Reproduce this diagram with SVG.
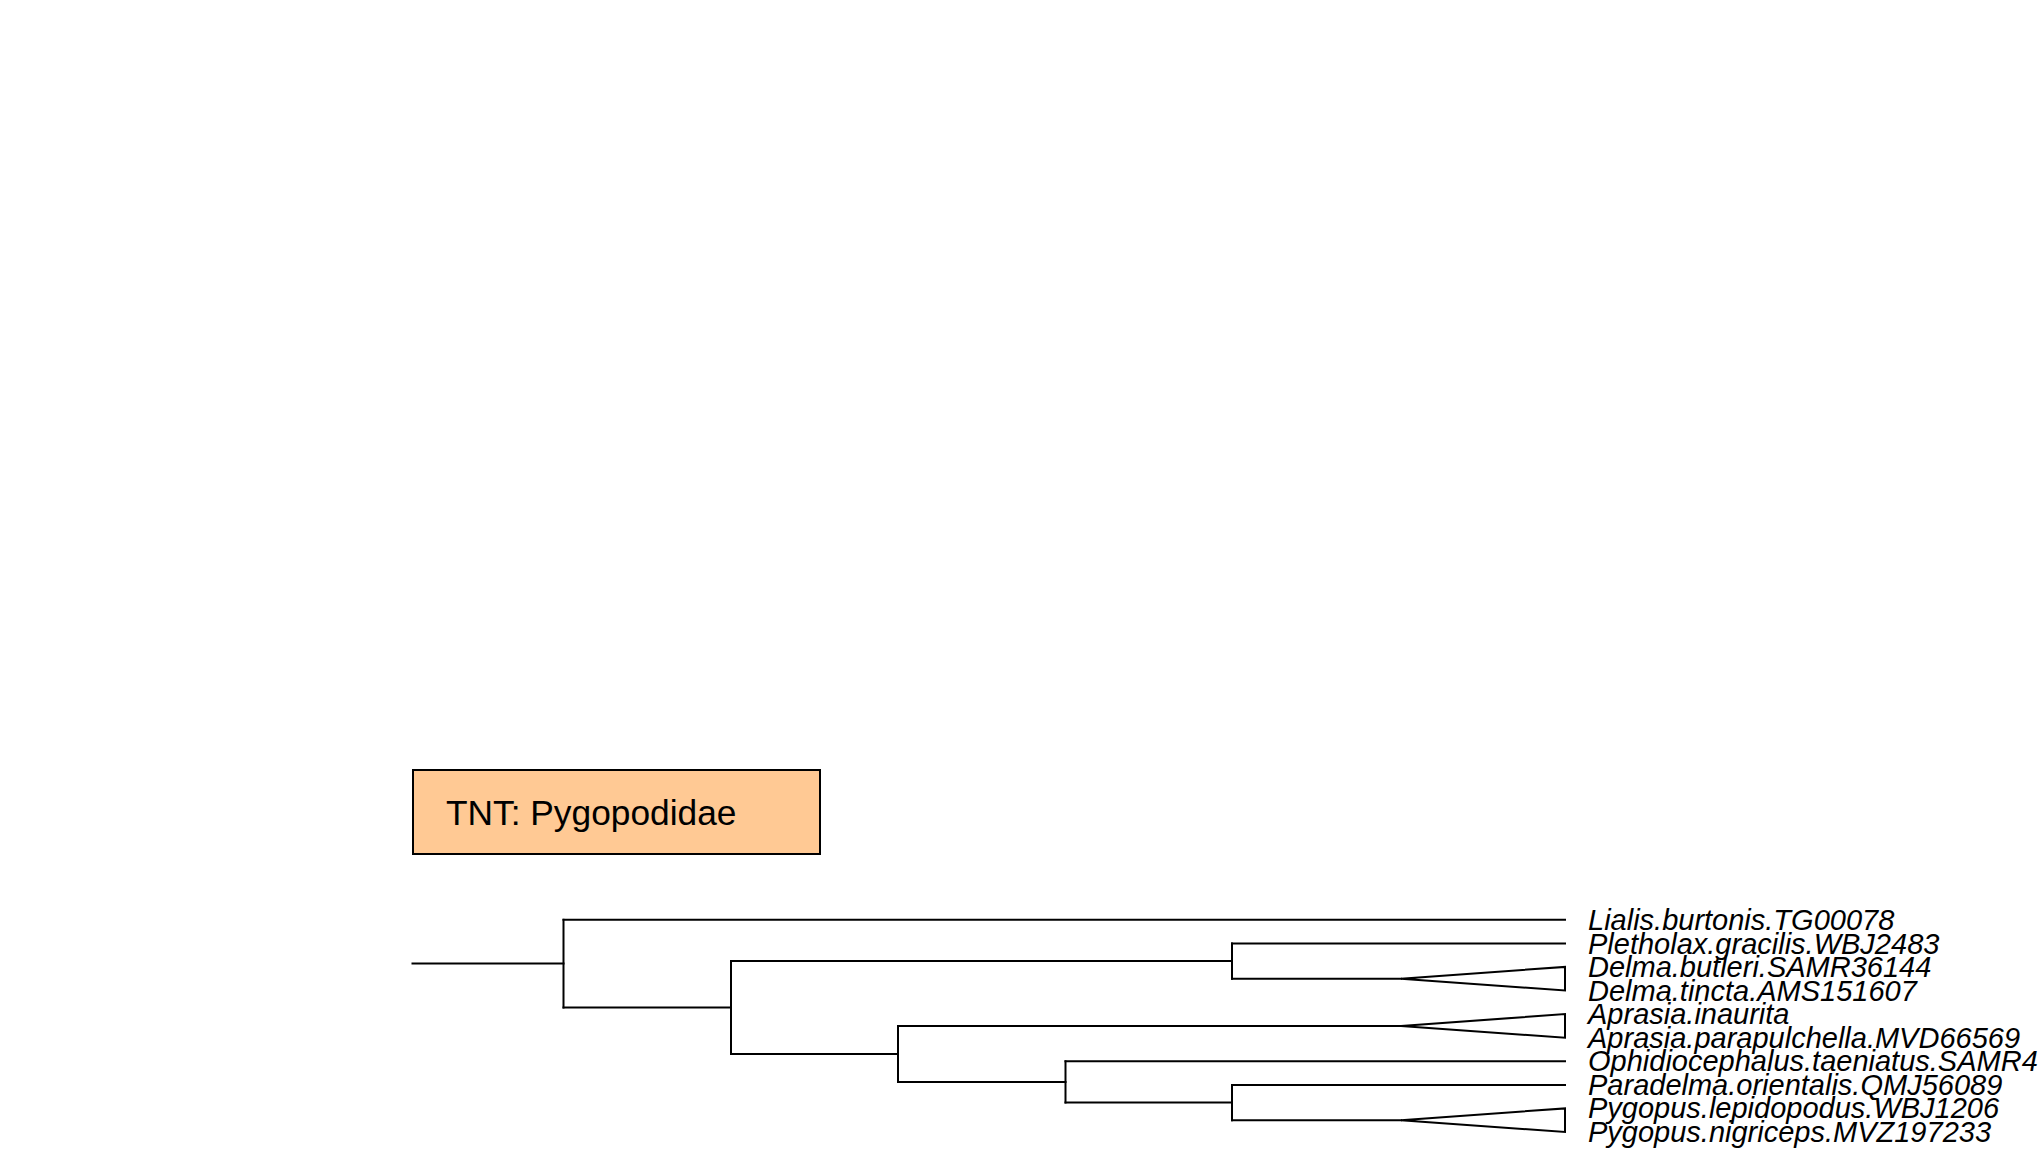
<svg xmlns="http://www.w3.org/2000/svg" width="2040" height="1168" viewBox="0 0 2040 1168">
<style>
.br{fill:none;stroke:#000;stroke-width:2;stroke-linejoin:miter;stroke-linecap:square}
.lab{font-family:"Liberation Sans",Arial,sans-serif;font-style:italic;font-size:29px;fill:#000}
.title{font-family:"Liberation Sans",Arial,sans-serif;font-size:35.3px;fill:#000}
</style>
<rect width="2040" height="1168" fill="#fff"/>
<g id="legend">
<rect x="413" y="770" width="407" height="84" fill="#ffc994" stroke="#000" stroke-width="2"/>
<text class="title" x="446" y="825">TNT: Pygopodidae</text>
</g>
<g id="connectors">
<path class="br" d="M412.5 963.6H563.5"/>
<path class="br" d="M563.5 919.8V1007.5"/>
<path class="br" d="M563.5 919.8H1565"/>
<path class="br" d="M563.5 1007.5H731"/>
<path class="br" d="M731 961V1053.9"/>
<path class="br" d="M731 961H1232"/>
<path class="br" d="M1232 943.4V978.7"/>
<path class="br" d="M1232 943.4H1565"/>
<path class="br" d="M1232 978.7H1401"/>
<path class="br" d="M731 1053.9H898"/>
<path class="br" d="M898 1025.9V1081.9"/>
<path class="br" d="M898 1025.9H1401"/>
<path class="br" d="M898 1081.9H1065.5"/>
<path class="br" d="M1065.5 1061.3V1102.5"/>
<path class="br" d="M1065.5 1061.3H1565"/>
<path class="br" d="M1065.5 1102.5H1232"/>
<path class="br" d="M1232 1084.9V1120.2"/>
<path class="br" d="M1232 1084.9H1565"/>
<path class="br" d="M1232 1120.2H1401"/>
</g>
<g id="clade-delma"><path class="br" d="M1401 978.7L1565 966.9V990.5Z"/></g>
<g id="clade-aprasia"><path class="br" d="M1401 1025.9L1565 1014.1V1037.7Z"/></g>
<g id="clade-pygopus"><path class="br" d="M1401 1120.2L1565 1108.4V1132Z"/></g>
<g id="labels">
<text class="lab" x="1588" y="930">Lialis.burtonis.TG00078</text>
<text class="lab" x="1588" y="953.5">Pletholax.gracilis.WBJ2483</text>
<text class="lab" x="1588" y="977">Delma.butleri.SAMR36144</text>
<text class="lab" x="1588" y="1000.5">Delma.tincta.AMS151607</text>
<text class="lab" x="1588" y="1024">Aprasia.inaurita</text>
<text class="lab" x="1588" y="1047.5">Aprasia.parapulchella.MVD66569</text>
<text class="lab" x="1588" y="1071">Ophidiocephalus.taeniatus.SAMR4</text>
<text class="lab" x="1588" y="1094.5">Paradelma.orientalis.QMJ56089</text>
<text class="lab" x="1588" y="1118">Pygopus.lepidopodus.WBJ1206</text>
<text class="lab" x="1588" y="1141.5">Pygopus.nigriceps.MVZ197233</text>
</g>
</svg>
